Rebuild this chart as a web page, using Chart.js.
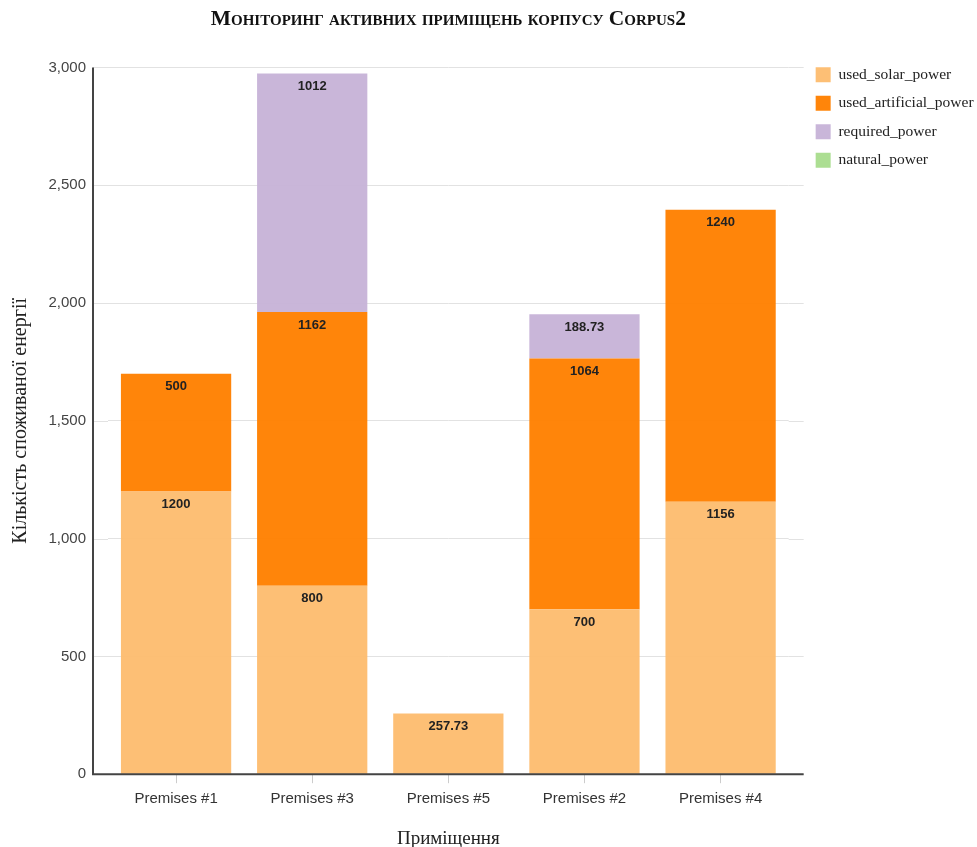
<!DOCTYPE html>
<html>
<head>
<meta charset="utf-8">
<script src="https://cdn.jsdelivr.net/npm/chart.js@4"></script>
<style>
  html, body { margin: 0; padding: 0; background: #fff; }
  #wrap { width: 977px; height: 847px; }
</style>
</head>
<body>
<div id="wrap"><canvas id="myChart"></canvas></div>
<script>
const premises = ['Premises #1','Premises #3','Premises #5','Premises #2','Premises #4'];
const usedSolar      = [1200, 800, 257.73, 700, 1156];
const usedArtificial = [500, 1162, 0, 1064, 1240];
const requiredPower  = [0, 1012, 0, 188.73, 0];
const naturalPower   = [0, 0, 0, 0, 0];
const yTicks = [0, 500, 1000, 1500, 2000, 2500, 3000];

const titleText = 'Моніторинг активних приміщень корпусу Corpus2';
const EXT = 15; // axis runs a bit past the first/last category

// small-caps title, centred over the plot area
const capsTitle = {
  id: 'capsTitle',
  afterDraw(chart){
    const ctx = chart.ctx, a = chart.chartArea;
    ctx.save();
    ctx.font = 'bold 21.4px "Liberation Serif", serif';
    ctx.fontVariantCaps = 'small-caps';
    ctx.fillStyle = '#111';
    ctx.textAlign = 'center';
    ctx.textBaseline = 'middle';
    ctx.fillText(titleText, (a.left + a.right) / 2, 19);
    ctx.restore();
  }
};

// legend needs a little more room than chart.js gives it
const widerLegend = {
  id: 'widerLegend',
  beforeLayout(chart){
    const lg = chart.legend;
    if (!lg || lg._wider) return;
    const fit = lg.fit;
    lg.fit = function(){ fit.call(this); this.width += 13; };
    lg._wider = true;
  }
};

// grid/axis lines extended past the category area
const axisLines = {
  id: 'axisLines',
  beforeDatasetsDraw(chart){
    const ctx = chart.ctx, a = chart.chartArea, y = chart.scales.y;
    ctx.save();
    ctx.strokeStyle = '#e2e2e2';
    ctx.lineWidth = 1;
    y.ticks.forEach(t => {
      const py = Math.round(y.getPixelForValue(t.value)) + 0.5;
      ctx.beginPath();
      ctx.moveTo(a.left - EXT, py); ctx.lineTo(a.left, py);
      ctx.moveTo(a.right, py); ctx.lineTo(a.right + EXT, py);
      ctx.stroke();
    });
    ctx.restore();
  },
  afterDatasetsDraw(chart){
    const ctx = chart.ctx, a = chart.chartArea;
    ctx.save();
    ctx.strokeStyle = '#444';
    ctx.lineWidth = 2;
    ctx.beginPath();
    ctx.moveTo(a.left - EXT, a.top);
    ctx.lineTo(a.left - EXT, a.bottom);
    ctx.lineTo(a.right + EXT, a.bottom);
    ctx.stroke();
    ctx.restore();
  }
};

// bold value at the top of every non-empty segment
const barLabels = {
  id: 'barLabels',
  afterDatasetsDraw(chart){
    const ctx = chart.ctx;
    ctx.save();
    ctx.font = 'bold 13px "Liberation Sans", Arial, sans-serif';
    ctx.fillStyle = '#222';
    ctx.textAlign = 'center';
    ctx.textBaseline = 'middle';
    chart.data.datasets.forEach((ds, i) => {
      const meta = chart.getDatasetMeta(i);
      if (meta.hidden) return;
      meta.data.forEach((bar, j) => {
        const v = ds.data[j];
        if (!v) return;
        ctx.fillText(String(v), bar.x, bar.y + 13);
      });
    });
    ctx.restore();
  }
};

const config = {
  type: 'bar',
  data: {
    labels: premises,
    datasets: [
      { label: 'used_solar_power', data: usedSolar, backgroundColor: 'rgba(253,188,110,0.95)' },
      { label: 'used_artificial_power', data: usedArtificial, backgroundColor: 'rgba(255,128,0,0.96)' },
      { label: 'required_power', data: requiredPower, backgroundColor: 'rgba(198,178,215,0.95)' },
      { label: 'natural_power', data: naturalPower, backgroundColor: 'rgba(168,220,140,0.95)' }
    ]
  },
  options: {
    responsive: true,
    maintainAspectRatio: false,
    animation: false,
    barPercentage: 0.81,
    categoryPercentage: 1,
    layout: { padding: { top: 0, left: 9, right: 0, bottom: 0 } },
    plugins: {
      title: {
        display: true,
        text: ' ',
        font: { size: 17 },
        padding: { top: 8, bottom: 39 }
      },
      legend: {
        position: 'right',
        align: 'start',
        title: { display: true, text: ' ', font: { size: 10 }, padding: { top: 42, bottom: 0 } },
        labels: {
          boxWidth: 15,
          boxHeight: 15,
          padding: 13,
          color: '#222',
          font: { family: '"Liberation Serif", serif', size: 15.5 }
        }
      },
      tooltip: { enabled: false }
    },
    scales: {
      x: {
        stacked: true,
        grid: { display: true, offset: false, drawOnChartArea: false, color: '#ccc', tickLength: 9 },
        border: { display: false },
        ticks: { color: '#333', padding: 7, font: { family: '"Liberation Sans", Arial, sans-serif', size: 15 } },
        title: {
          display: true, text: 'Приміщення', color: '#222',
          font: { family: '"Liberation Serif", serif', size: 19 },
          padding: { top: 12, bottom: -3 }
        }
      },
      y: {
        stacked: true,
        min: 0, max: 3000,
        afterBuildTicks(axis){ axis.ticks = yTicks.map(v => ({ value: v })); },
        afterFit(axis){ axis.width = 99; },
        grid: { color: '#e2e2e2', drawTicks: false },
        border: { display: false },
        ticks: {
          color: '#444', padding: 7 + EXT,
          font: { family: '"Liberation Sans", Arial, sans-serif', size: 15 },
          callback: v => v.toLocaleString('en-US')
        },
        title: {
          display: true, text: 'Кількість споживаної енергії', color: '#222',
          font: { family: '"Liberation Serif", serif', size: 20 },
          padding: { top: 0, bottom: 20 }
        }
      },
      gap: {
        type: 'linear',
        position: 'right',
        display: true,
        grid: { display: false },
        border: { display: false },
        ticks: { display: false },
        afterFit(axis){ axis.width = 14; }
      }
    }
  },
  plugins: [widerLegend, axisLines, barLabels, capsTitle]
};

const myChart = new Chart(document.getElementById('myChart'), config);
</script>
</body>
</html>
